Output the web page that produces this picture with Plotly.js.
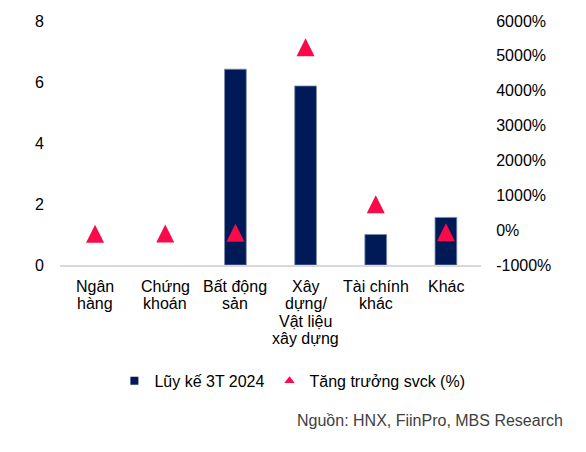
<!DOCTYPE html>
<html>
<head>
<meta charset="utf-8">
<script src="https://cdn.plot.ly/plotly-3.0.1.min.js"></script>
<style>html,body{margin:0;padding:0;background:#fff;}#chart{width:586px;height:452px;}</style>
</head>
<body>
<div id="chart"></div>
<script>
// Data
const categories = ["Ngân<br>hàng", "Chứng<br>khoán", "Bất động<br>sản", "Xây<br>dựng/<br>Vật liệu<br>xây dựng", "Tài chính<br>khác", "Khác"];
const cumulative3T2024 = [0, 0, 6.42, 5.87, 1.0, 1.56];
const growthYoY = [-100, -95, -72, 5250, 740, -63];
const leftTicks = [0, 2, 4, 6, 8];
const rightTicks = [-1000, 0, 1000, 2000, 3000, 4000, 5000, 6000];
const barName = "Lũy kế 3T 2024";
const growthName = "Tăng trưởng svck (%)";
const sourceText = "Nguồn: HNX, FiinPro, MBS Research";

const NAVY = "#001A57";
const RED = "#FA0A48";
const FONT = "Liberation Sans, Arial, sans-serif";

// geometry helpers (styling only)
const plotH = 244;
const rightRange = [-1000, 6000];
const markerSize = 18;
const offset = (markerSize / 2) * (rightRange[1] - rightRange[0]) / plotH; // centre arrow marker on value

const traces = [
  {
    type: "bar", x: categories, y: cumulative3T2024, name: barName,
    marker: {color: NAVY, line: {color: "#7d8cad", width: cumulative3T2024.map(function (v) { return v === 0 ? 0 : 0.8; })}},
    width: 0.31, showlegend: false, hoverinfo: "x+y"
  },
  {
    type: "scatter", mode: "markers", x: categories, y: growthYoY, name: growthName,
    yaxis: "y3",
    marker: {symbol: "arrow-up", size: markerSize, color: RED, line: {width: 0}},
    showlegend: false
  },
  // legend entries
  {
    type: "scatter", mode: "markers", x: [null], y: [null], name: barName, yaxis: "y2",
    marker: {symbol: "square", size: 8, color: NAVY}
  },
  {
    type: "scatter", mode: "markers", x: [null], y: [null], name: growthName, yaxis: "y2",
    marker: {symbol: "triangle-up", size: 9, color: RED}
  }
];

// category labels, one annotation per line for compact line spacing
const annotations = [];
categories.forEach(function (c) {
  c.split("<br>").forEach(function (line, i) {
    annotations.push({
      text: line, xref: "x", x: c, yref: "paper", y: 0,
      yanchor: "middle", xanchor: "center", yshift: -(21.5 + 17.3 * i),
      showarrow: false, font: {family: FONT, size: 16, color: "#000"}
    });
  });
});
annotations.push({
  text: sourceText, xref: "paper", yref: "paper",
  x: (565 - 60) / 421, y: -(420.7 - 265) / 244, xanchor: "right", yanchor: "middle",
  showarrow: false, font: {family: FONT, size: 16, color: "#404040"}
});

const layout = {
  width: 586, height: 452,
  margin: {l: 60, r: 105, t: 21, b: 187, pad: 0},
  paper_bgcolor: "#fff", plot_bgcolor: "#fff",
  font: {family: FONT, size: 16, color: "#000"},
  showlegend: true,
  legend: {
    orientation: "h", x: 0.552, xanchor: "center", y: -0.475, yanchor: "middle",
    font: {family: FONT, size: 16, color: "#000"}, itemwidth: 30, bgcolor: "rgba(0,0,0,0)"
  },
  bargap: 0.69,
  xaxis: {
    type: "category", showticklabels: false, ticks: "",
    showline: true, linecolor: "#d9d9d9", linewidth: 2, showgrid: false, zeroline: false,
    fixedrange: true
  },
  yaxis: {
    range: [0, 8], tickvals: leftTicks, ticktext: leftTicks.map(String),
    showgrid: false, zeroline: false, showline: false,
    ticks: "outside", ticklen: 12, tickcolor: "rgba(0,0,0,0)",
    tickfont: {family: FONT, size: 16, color: "#000"}
  },
  yaxis2: {
    overlaying: "y", side: "right", range: rightRange, tickvals: rightTicks,
    ticktext: rightTicks.map(function (v) { return v + "%"; }),
    showgrid: false, zeroline: false, showline: false,
    ticks: "outside", ticklen: 11, tickcolor: "rgba(0,0,0,0)",
    tickfont: {family: FONT, size: 16, color: "#000"}
  },
  yaxis3: {
    overlaying: "y", side: "right", visible: false,
    range: [rightRange[0] - offset, rightRange[1] - offset],
    showgrid: false, zeroline: false
  },
  annotations: annotations
};

Plotly.newPlot("chart", traces, layout, {staticPlot: true, displayModeBar: false});
</script>
</body>
</html>
